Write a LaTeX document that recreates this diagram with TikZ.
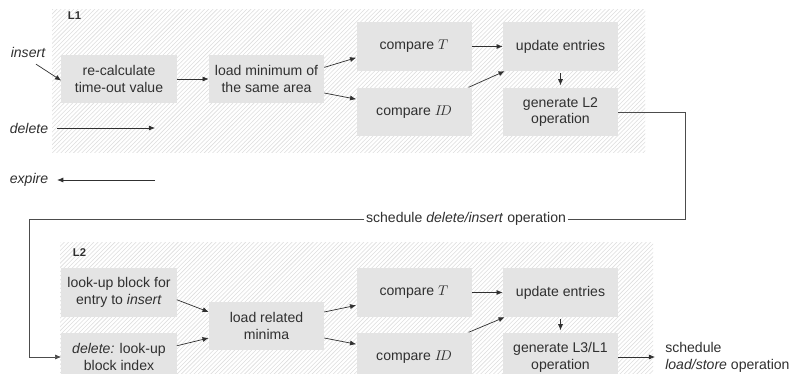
\documentclass[tikz,border=0pt]{standalone}
\usepackage{fontspec}
\setmainfont{Liberation Sans}
\usepackage{amsmath}
\usepackage{xcolor}
\usepackage{tikz}
\usetikzlibrary{arrows.meta,patterns}

\definecolor{boxgray}{HTML}{E4E4E4}
\definecolor{inkgray}{HTML}{303030}

\begin{document}
\begin{tikzpicture}[x=0.25mm, y=-0.25mm, font=\fontsize{10}{12}\selectfont, text=inkgray,
  box/.style={fill=boxgray, minimum width=28.75mm, minimum height=12.2mm, inner sep=1pt, align=center},
  area/.style={pattern=north east lines, pattern color=black!13},
  arr/.style={draw=inkgray, line width=0.5pt, -{Latex[length=4.4pt,width=3.6pt]}},
  lvl/.style={font=\fontsize{8}{9}\selectfont\bfseries, anchor=west}]
  \clip (0,0) rectangle (795,374);
  % hatched level areas
  \fill[white] (0,0) rectangle (795,374);
  \fill[area] (52,10) rectangle (645,153);
  \fill[area] (60,243) rectangle (653,380);
  \node[lvl] (l1) at (63,16) {L1};
  \node[lvl] (l2) at (68,253) {L2};

  % level 1
  \node[box] (recalc) at (119,79) {re-calculate\\time-out value};
  \node[box] (loadmin) at (266.5,79) {load minimum of\\the same area};
  \node[box] (cmpT) at (414,46.5) {compare $T$};
  \node[box] (cmpID) at (414,112) {compare $I\!D$};
  \node[box] (update) at (560.5,46.5) {update entries};
  \node[box] (genL2) at (560.5,112) {generate L2\\operation};
  \node (insert) at (28,52) {\itshape insert};
  \node (delete) at (29,128) {\itshape delete};
  \node (expire) at (29,180) {\itshape expire};
  \coordinate (delend) at (155,128);
  \coordinate (expbeg) at (155,180);

  \draw[arr] ([xshift=2mm,yshift=-0.5mm]insert.south) -- ([yshift=-0.4mm]recalc.west);
  \draw[arr] (recalc) -- (loadmin);
  \draw[arr] ([yshift=2.9mm]loadmin.east) -- ([yshift=-2.8mm]cmpT.west);
  \draw[arr] ([yshift=-3.5mm]loadmin.east) -- ([yshift=3.2mm]cmpID.west);
  \draw[arr] (cmpT) -- (update);
  \draw[arr] ([xshift=-0.8mm]cmpID.north east) -- ([xshift=0.5mm]update.south west);
  \draw[arr] ([yshift=-0.5mm]update.south) -- ([yshift=0.5mm]genL2.north);
  \draw[arr] ([xshift=1mm]delete.east) -- (delend);
  \draw[arr] (expbeg) -- ([xshift=1mm]expire.east);

  % hand-over to level 2
  \node[inner sep=1pt] (sched) at (466,219) {schedule \textit{delete/insert} operation};
  \coordinate (turnR) at (685,219);
  \coordinate (turnL) at (29,219);

  % level 2
  \node[box] (lookup) at (119,292.5) {look-up block for\\entry to \textit{insert}};
  \node[box] (delidx) at (119,357) {\textit{delete:} look-up\\block index};
  \node[box] (loadrel) at (266.5,326) {load related\\minima};
  \node[box] (cmpT2) at (414,292.5) {compare $T$};
  \node[box] (cmpID2) at (414,357) {compare $I\!D$};
  \node[box] (update2) at (560.5,292.5) {update entries};
  \node[box] (genL3) at (560.5,357) {generate L3/L1\\operation};
  \node[anchor=west, align=left, inner sep=0pt] (out) at (665,357) {schedule\\\textit{load/store} operation};

  \draw[draw=black!70, line width=0.5pt] (genL2.east) -| (turnR) -- (sched.east);
  \draw[arr, draw=black!70] (sched.west) -- (turnL) |- (delidx.west);
  \draw[arr] ([yshift=-1.8mm]lookup.east) -- ([yshift=3.5mm]loadrel.west);
  \draw[arr] ([yshift=2.8mm]delidx.east) -- ([yshift=-3mm]loadrel.west);
  \draw[arr] ([yshift=3.5mm]loadrel.east) -- ([yshift=-3.2mm]cmpT2.west);
  \draw[arr] ([yshift=-3mm]loadrel.east) -- ([yshift=3.2mm]cmpID2.west);
  \draw[arr] (cmpT2) -- (update2);
  \draw[arr] ([xshift=-0.8mm]cmpID2.north east) -- ([xshift=0.5mm]update2.south west);
  \draw[arr] ([yshift=-0.5mm]update2.south) -- ([yshift=0.5mm]genL3.north);
  \draw[arr] (genL3.east) -- ([xshift=-2.5mm]out.west);
\end{tikzpicture}
\end{document}
